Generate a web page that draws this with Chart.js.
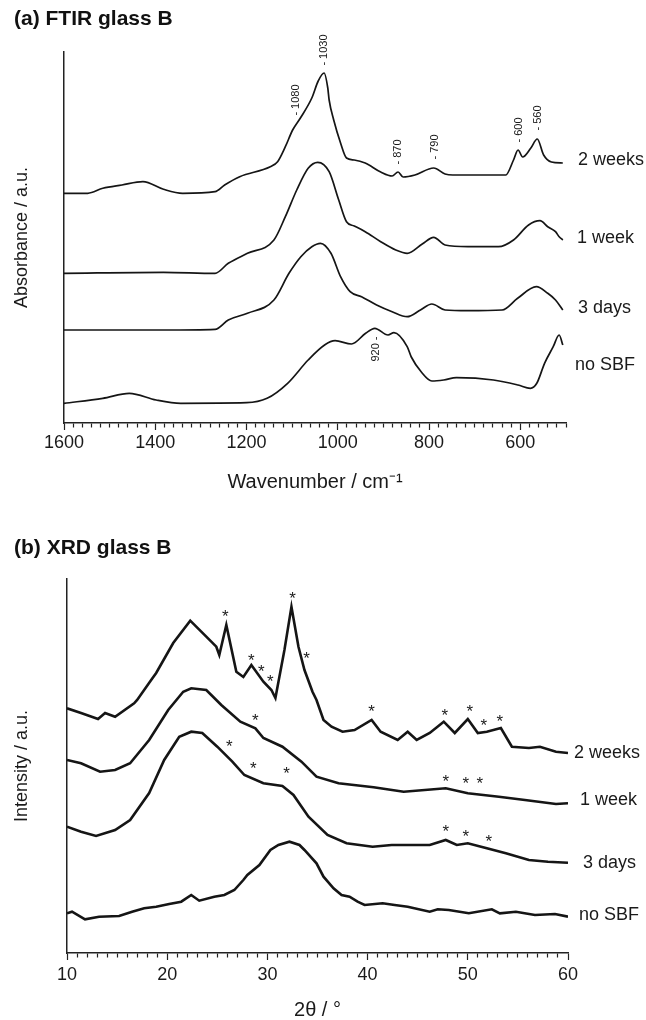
<!DOCTYPE html>
<html><head><meta charset="utf-8">
<script src="https://cdn.jsdelivr.net/npm/chart.js@4"></script>
<style>
html,body{margin:0;padding:0;background:#fff;}
#wrap{position:relative;width:646px;height:1020px;overflow:hidden;background:#fff;}
canvas{position:absolute;left:0;}
.ttl{position:absolute;left:14px;font:bold 21px "Liberation Sans",Arial,sans-serif;color:#111;line-height:24px;white-space:nowrap;}
</style></head><body>
<div id="wrap">
<canvas id="c1" width="646" height="500" style="top:0;width:646px;height:500px"></canvas>
<canvas id="c2" width="646" height="520" style="top:500px;width:646px;height:520px"></canvas>
<div class="ttl" style="top:6px">(a) FTIR glass B</div>
<div class="ttl" style="top:535px">(b) XRD glass B</div>
</div>
<script>
const FONT = '"Liberation Sans", Arial, Helvetica, sans-serif';
Chart.defaults.font.family = FONT;
Chart.defaults.color = '#1a1a1a';

// ---------- FTIR (a) : wavenumber / cm-1 vs absorbance (stacked, a.u.) ----------
const ftirWn2w  = [1600,1548,1515,1473,1427,1382,1340,1269,1248,1215,1148,1132,1115,1099,1082,1057,1043,1030,1022,1019,1009,994,981,964,940,906,881,868,857,831,790,765,748,632,615,605,595,577,563,549,532,507];
const ftirAbs2w = [229.7,229.7,234.7,238,241.3,233.7,229.7,231.3,238,246.3,256.3,261.3,276.3,293,305,325,342,350,335,323,303,280,265,263,260,251,247,251,246,248,255,249,248,248,263,273,266,275,284,268,261,260];
const ftirWn1w  = [1600,1382,1269,1240,1198,1140,1115,1090,1065,1044,1019,998,981,964,940,906,873,848,815,790,765,715,648,615,582,557,540,523,515,507];
const ftirAbs1w = [149.7,150.7,149.7,159.7,169.7,183,206.3,233,254.7,260.7,251.3,223,201.3,197,191.3,181.3,173,169.7,179,185.7,178,176.3,176.3,183,198,202.3,196.3,191.3,186.3,183];
const ftirWn3d  = [1600,1382,1269,1240,1198,1140,1107,1081,1057,1038,1015,994,973,948,915,881,848,819,794,765,715,640,606,565,540,523,507];
const ftirAbs3d = [93,93,93.7,103,109.7,123,149.7,166.3,176.3,179.7,169.7,146.3,131.3,126.3,118,111.3,106.3,113,119,113,112.3,113,124.7,136.3,129.7,123,113];
const ftirWn0   = [1600,1515,1457,1398,1344,1200,1155,1110,1065,1029,1006,970,939,919,890,877,848,839,817,794,768,740,659,605,578,564,547,528,515,507];
const ftirAbs0  = [19.7,24.7,29.7,23,19.7,20.3,24.7,39.7,63,78,82.3,79,89.7,94.7,88,90.3,76.3,66,51,42,43,45.3,43,38,34.7,39.7,59.7,76.3,88,78];
const ftirSeries = ['2 weeks','1 week','3 days','no SBF'];
const ftirTicks = [1600,1400,1200,1000,800,600];
const ftirPeakText = ['- 1080','- 1030','- 870','- 790','- 600','- 560','920 -'];
const ftirPeakWn   = [1092,1030,869,788,602,561,916];

// ---------- XRD (b) : 2theta / deg vs intensity (stacked, a.u.) ----------
const xrdT2w = [10,11.4,13.1,13.8,14.8,16.7,17.0,18.4,18.9,20.6,22.3,23.9,24.9,25.2,25.9,26.9,27.6,28.4,29.6,30.4,30.8,31.7,32.4,33.1,33.7,34.5,34.9,35.6,36.4,37.5,38.7,40.4,41.3,43.0,44.0,44.9,46.2,47.6,48.7,50.0,51.0,51.9,53.3,54.4,56.1,57.2,58.8,60];
const xrdI2w = [244.7,240,234,240,236.3,249.7,253,273,280,310,332.3,316.3,306.3,298,328,281.3,276,288,271.3,263,255,303,346.3,306.3,283,261.3,253,233,226.3,221.3,223,233,221.3,213,221.3,213,220,231.3,220,234,220,221.3,225,206.3,205,206.3,201.3,200];
const xrdT1w = [10,11.4,13.3,14.8,16.3,18.2,20.1,21.6,22.4,23.9,25.4,27.3,28.8,29.6,31.5,33.4,34.9,37.1,40.6,43.6,47.8,50.0,53.1,55.7,58.8,60];
const xrdI1w = [193,189.7,181.3,183,189.7,213,243,261.3,264.7,263,248,231.3,224.7,215,206.3,191.3,176.3,169.7,165.7,161.3,164.7,159.7,156.3,153,149,149.7];
const xrdT3d = [10,11.4,12.9,14.8,16.3,18.2,19.7,21.2,22.4,23.5,25.0,26.5,27.7,29.6,31.5,32.6,34.1,36.0,37.9,40.5,42.4,46.2,47.8,48.9,50.0,51.9,53.8,56.1,58.0,60];
const xrdI3d = [126.3,121.3,117,123,133,160,193,216.3,221.3,220,206.3,191.3,178,169.7,167,158,136.3,118,109.7,106.3,108,108,113,108,109.7,104.7,99.7,93,91.3,90.3];
const xrdT0  = [10,10.5,11.8,13.2,15.2,16.5,17.7,18.9,20.2,21.4,22.4,23.2,24.7,25.7,26.7,27.6,28.0,29.2,30.3,31.1,32.2,33.2,33.7,34.9,35.6,36.6,37.4,38.2,39.0,39.7,41.5,42.7,44.0,46.2,47.0,48.1,50.1,52.4,53.2,54.8,56.7,58.7,60];
const xrdI0  = [39.7,41.3,33.7,36.3,37,41.3,44.7,46.3,49,51.3,58,52.3,56.3,58,63,73,78,88,103,108,111.3,108,103,89.7,76.3,64.7,58,56.3,51.3,48,49.7,48,46.3,41.3,43.7,43,39.7,43.7,39.7,41.3,38,39,36.3];
const xrdSeries = ['2 weeks','1 week','3 days','no SBF'];
const xrdTicks = [10,20,30,40,50,60];
// crystalline reflections marked with *
const xrdStarT = [25.8,28.4,29.4,30.3,32.5,33.9,40.4,47.7,50.2,51.6,53.2, 28.8,47.8,49.8,51.2, 26.2,28.6,31.9,47.8,49.8,52.1];

// ---------- annotation placement (positions only) ----------
const ftirNameY = [263,185,115,58], ftirNameDx = [12,11,12,9];
const ftirPeakY = [323,373,271,276,293,305,74];
const xrdNameY = [200,153,90,38], xrdNameDx = [6,12,15,11];
const xrdStarY = [340,296,285,275,358,298,245,241,245,231,235, 236,175,173,173, 210,188,183,125,120,115];

function pts(xs, ys){ return xs.map((x,i)=>({x:x, y:ys[i]})); }

function annotPlugin(cfg){
  return {
    id: 'annot',
    afterDatasetsDraw(chart){
      const ctx = chart.ctx, xs = chart.scales.x, ys = chart.scales.y, ca = chart.chartArea;
      ctx.save();
      ctx.fillStyle = '#1a1a1a';
      ctx.font = '18px ' + FONT;
      ctx.textAlign = 'left'; ctx.textBaseline = 'middle';
      cfg.names.forEach((n,i)=> ctx.fillText(n, ca.right + cfg.nameDx[i], ys.getPixelForValue(cfg.nameY[i])));
      if (cfg.peakText){
        ctx.font = '11px ' + FONT;
        ctx.textAlign = 'center'; ctx.textBaseline = 'middle';
        cfg.peakText.forEach((t,i)=>{
          ctx.save();
          ctx.translate(xs.getPixelForValue(cfg.peakX[i]), ys.getPixelForValue(cfg.peakY[i]));
          ctx.rotate(-Math.PI/2);
          ctx.fillText(t, 0, 0);
          ctx.restore();
        });
      }
      if (cfg.starX){
        ctx.font = '17px ' + FONT;
        ctx.textAlign = 'center'; ctx.textBaseline = 'alphabetic';
        const m = ctx.measureText('*');
        const off = (m.actualBoundingBoxAscent - m.actualBoundingBoxDescent)/2;
        cfg.starX.forEach((sx,i)=> ctx.fillText('*', xs.getPixelForValue(sx), ys.getPixelForValue(cfg.starY[i]) + off));
      }
      ctx.restore();
    }
  };
}

function lineDs(label, data, w, smooth){
  return { label, data, borderColor:'#151515', borderWidth:w, pointRadius:0, fill:false,
           tension: smooth ? 0.4 : 0, cubicInterpolationMode: smooth ? 'monotone' : 'default' };
}

function makeOptions(o){
  return {
    responsive:false, animation:false, devicePixelRatio:1,
    layout:{ padding:{ top:o.padTop, right:o.padRight, left:0, bottom:0 } },
    plugins:{ legend:{display:false}, tooltip:{enabled:false} },
    scales:{
      x:{
        type:'linear', reverse:o.reverse, min:o.min, max:o.max,
        afterFit: s => { s.height = o.xHeight; },
        border:{ display:true, color:'#222', width:1.5 },
        grid:{ display:true, drawOnChartArea:false, drawTicks:true, tickLength:7, color:'#222', tickColor:'#222', tickWidth:1.2,
               tickBorderDash: c => (c.tick && o.ticks.includes(c.tick.value)) ? [] : [4, 30] },
        ticks:{ stepSize:o.step, autoSkip:false, maxTicksLimit:1000, maxRotation:0, minRotation:0, padding:o.tickPad,
                color:'#1a1a1a', font:{ size:18 },
                callback: v => o.ticks.includes(v) ? String(v) : '' },
        title:{ display:true, text:o.xTitle, color:'#1a1a1a', font:{ size:20, lineHeight:1 }, padding:{ top:0, bottom:o.xTitlePad } }
      },
      y:{
        min:0, max:o.yMax,
        afterFit: s => { s.width = o.yWidth; },
        border:{ display:true, color:'#222', width:1.5 },
        grid:{ display:false },
        ticks:{ display:false },
        title:{ display:true, text:o.yTitle, color:'#1a1a1a', font:{ size:18, lineHeight:1.2 }, padding:{ top:11, bottom:0 } }
      }
    }
  };
}

new Chart(document.getElementById('c1'), {
  type:'line',
  data:{ datasets:[
    lineDs(ftirSeries[0], pts(ftirWn2w, ftirAbs2w), 1.7, true),
    lineDs(ftirSeries[1], pts(ftirWn1w, ftirAbs1w), 1.7, true),
    lineDs(ftirSeries[2], pts(ftirWn3d, ftirAbs3d), 1.7, true),
    lineDs(ftirSeries[3], pts(ftirWn0, ftirAbs0), 1.7, true)
  ]},
  options: makeOptions({ padTop:52, padRight:80, reverse:true, min:500, max:1600, step:20, ticks:ftirTicks,
    xHeight:77, tickPad:2, xTitle:'Wavenumber / cm\u207B\u00B9', xTitlePad:8, yMax:371, yWidth:64, yTitle:'Absorbance / a.u.' }),
  plugins:[ annotPlugin({ names:ftirSeries, nameY:ftirNameY, nameDx:ftirNameDx, peakText:ftirPeakText, peakX:ftirPeakWn, peakY:ftirPeakY }) ]
});

new Chart(document.getElementById('c2'), {
  type:'line',
  data:{ datasets:[
    lineDs(xrdSeries[0], pts(xrdT2w, xrdI2w), 2.6, false),
    lineDs(xrdSeries[1], pts(xrdT1w, xrdI1w), 2.6, false),
    lineDs(xrdSeries[2], pts(xrdT3d, xrdI3d), 2.6, false),
    lineDs(xrdSeries[3], pts(xrdT0, xrdI0), 2.6, false)
  ]},
  options: makeOptions({ padTop:79, padRight:78, reverse:false, min:10, max:60, step:1, ticks:xrdTicks,
    xHeight:67, tickPad:4, xTitle:'2\u03B8 / \u00B0', xTitlePad:0, yMax:374, yWidth:67, yTitle:'Intensity / a.u.' }),
  plugins:[ annotPlugin({ names:xrdSeries, nameY:xrdNameY, nameDx:xrdNameDx, starX:xrdStarT, starY:xrdStarY }) ]
});
</script>
</body></html>
